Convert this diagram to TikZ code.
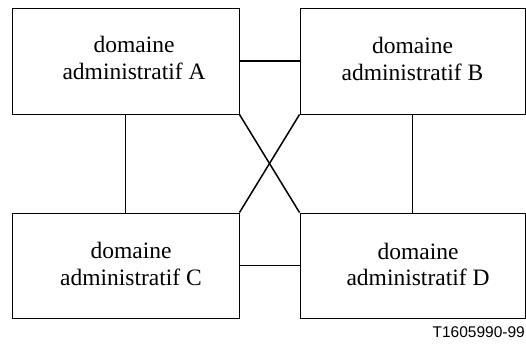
\documentclass[tikz,border=0pt]{standalone}
\usepackage{fontspec}
\setmainfont{Liberation Serif}
\newfontfamily\labfont{Liberation Sans}
\begin{document}
\begin{tikzpicture}[x=1pt,y=-1pt,
  box/.style={draw, line width=0.9pt, inner sep=0pt},
  lbl/.style={font=\fontsize{23.5}{27}\selectfont, align=center, inner sep=0pt, anchor=base},
  link/.style={line width=1.5pt}]
\useasboundingbox (0,0) rectangle (526,343);
\node[box, minimum width=227pt, minimum height=106pt] (A) at (125.5,61) {};
\node[box, minimum width=225pt, minimum height=106pt] (B) at (412.5,61) {};
\node[box, minimum width=227pt, minimum height=105pt] (C) at (125.5,265.5) {};
\node[box, minimum width=225pt, minimum height=105pt] (D) at (412.5,265.5) {};
\node[lbl] (tA1) at (134,52) {domaine};
\node[lbl] (tA2) at (134,79) {administratif A};
\node[lbl] (tB1) at (412.5,53) {domaine};
\node[lbl] (tB2) at (412.5,80) {administratif B};
\node[lbl] (tC1) at (131,258) {domaine};
\node[lbl] (tC2) at (131,285) {administratif C};
\node[lbl] (tD1) at (418,259) {domaine};
\node[lbl] (tD2) at (418,285) {administratif D};
\node[font=\labfont\fontsize{15.5}{17}\selectfont, anchor=base east, inner sep=0pt] (ref) at (525,337) {T1605990-99};
\draw[link] (A.east) -- (B.west);
\draw[link] (C.east) -- (D.west);
\draw[link] (A.south) -- (C.north);
\draw[link] (B.south) -- (D.north);
\draw[link] (A.south east) -- (D.north west);
\draw[link] (B.south west) -- (C.north east);
\end{tikzpicture}
\end{document}
